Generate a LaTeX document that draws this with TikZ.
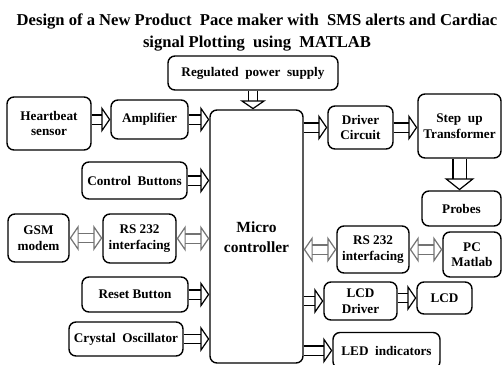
\documentclass[tikz,border=0pt]{standalone}
\usepackage{fontspec}
\setmainfont{Liberation Serif}
\usetikzlibrary{arrows.meta}

\tikzset{
  blk/.style={draw, line width=1.4pt, rounded corners=7pt, align=center, inner sep=1pt,
    font=\bfseries\fontsize{13.2}{15.5}\selectfont},
  fat/.style={double=white, double distance=8pt, line width=1.2pt,
    -{Triangle[open, length=9pt, width=26pt, line width=1.2pt]}},
  fatboth/.style={fat, draw=black!55,
    {Triangle[open, length=9pt, width=26pt, line width=1.2pt]}-{Triangle[open, length=9pt, width=26pt, line width=1.2pt]}},
}

\begin{document}
\begin{tikzpicture}[x=1pt, y=-1pt]
  \useasboundingbox (0,0) rectangle (502,364);
  % title
  \node[align=center, font=\bfseries\fontsize{16.6}{22}\selectfont] (title) at (257,32)
    {Design of a New Product\ \ Pace maker with\ \ SMS alerts and Cardiac\\ signal Plotting\ \ using\ \ MATLAB};

  % blocks
  \node[blk, minimum width=170pt, minimum height=34pt] (power) at (253,73) {Regulated\ \ power\ \ supply};
  \node[blk, minimum width=93pt, minimum height=253pt, font=\bfseries\fontsize{15.5}{20}\selectfont] (micro) at (256.5,236.5) {\\[-8pt]Micro\\controller};
  \node[blk, minimum width=84pt, minimum height=53pt] (heart) at (49,123.5) {Heartbeat\\sensor};
  \node[blk, minimum width=77pt, minimum height=39pt] (amp) at (149.5,119.5) {Amplifier};
  \node[blk, minimum width=105pt, minimum height=37pt] (ctrl) at (134.5,180.5) {Control\ \ Buttons};
  \node[blk, minimum width=61pt, minimum height=48pt] (gsm) at (38.5,238) {GSM\\modem};
  \node[blk, minimum width=73pt, minimum height=49pt] (rsl) at (139.5,238.5) {RS 232\\interfacing};
  \node[blk, minimum width=106pt, minimum height=35pt] (reset) at (135,294.5) {Reset Button};
  \node[blk, minimum width=114pt, minimum height=34pt] (xtal) at (126,339) {Crystal\ \ Oscillator};
  \node[blk, minimum width=65pt, minimum height=43pt] (drv) at (360.5,127.5) {Driver\\Circuit};
  \node[blk, minimum width=83pt, minimum height=64pt] (step) at (459.5,126) {Step\ \ up\\Transformer};
  \node[blk, minimum width=79pt, minimum height=35pt] (probes) at (461.5,208.5) {Probes};
  \node[blk, minimum width=72pt, minimum height=47pt] (rsr) at (373,249.5) {RS 232\\interfacing};
  \node[blk, minimum width=58pt, minimum height=45pt] (pc) at (472,254.5) {PC\\Matlab};
  \node[blk, minimum width=73pt, minimum height=38pt] (lcddrv) at (360.5,301) {LCD\\Driver};
  \node[blk, minimum width=55pt, minimum height=32pt] (lcd) at (444.5,298) {LCD};
  \node[blk, minimum width=107pt, minimum height=36pt] (led) at (386.5,350.5) {LED\ \ indicators};

  % connectors
  \draw[fat] (power.south) -- (power.south |- micro.north);
  \draw[fat] (heart.east |- amp) -- (amp.west);
  \draw[fat] (amp.east) -- (amp.east -| micro.west);
  \draw[fat] (ctrl.east) -- (ctrl.east -| micro.west);
  \draw[fatboth] (gsm.east) -- (gsm.east -| rsl.west);
  \draw[fatboth] (rsl.east) -- (rsl.east -| micro.west);
  \draw[fat] (reset.east) -- (reset.east -| micro.west);
  \draw[fat] (xtal.east) -- (xtal.east -| micro.west);
  \draw[fat] (micro.east |- drv) -- (drv.west);
  \draw[fat] (drv.east) -- (drv.east -| step.west);
  \draw[fat, double distance=12pt, -{Triangle[open, length=12pt, width=30pt, line width=1.2pt]}]
    (step.south) -- (step.south |- probes.north);
  \draw[fatboth] (micro.east |- rsr) -- (rsr.west);
  \draw[fatboth] (rsr.east) -- (rsr.east -| pc.west);
  \draw[fat] (micro.east |- lcddrv) -- (lcddrv.west);
  \draw[fat] (lcddrv.east |- lcd) -- (lcd.west);
  \draw[fat] (micro.east |- led) -- (led.west);
\end{tikzpicture}
\end{document}
